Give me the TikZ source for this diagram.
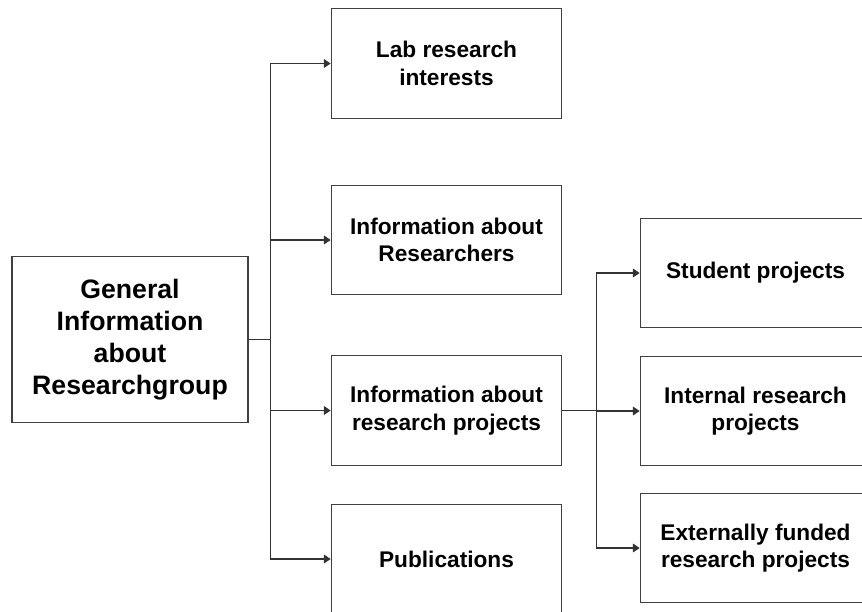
\documentclass[tikz,border=0pt]{standalone}
\usepackage{fontspec}
\setmainfont{Liberation Sans}
\usetikzlibrary{calc,arrows.meta}

\begin{document}
\begin{tikzpicture}[x=0.75pt,y=-0.75pt,info/.style={draw=black!75,line width=0.8pt,align=center,font=\bfseries\fontsize{17}{20.5}\selectfont,minimum width=173pt,minimum height=82pt,inner sep=0pt},group/.style={info,font=\bfseries\fontsize{20}{24}\selectfont,minimum width=177pt,minimum height=124pt},arrow/.style={-{Triangle[length=5pt,width=6.5pt]},line width=0.8pt,draw=black!80}]
  \path[use as bounding box,clip] (0,0) rectangle (862,611);
  \node[group] (general) at (130,339.5) {General\\Information\\about\\Researchgroup};
  \node[info] (lab) at ($ (general) + (316.5,-276) $) {Lab research\\interests};
  \node[info] (researchers) at ($ (lab) + (0,176.5) $) {Information about\\Researchers};
  \node[info] (projects) at ($ (researchers) + (0,170.5) $) {Information about\\research projects};
  \node[info] (publications) at ($ (projects) + (0,148.5) $) {Publications};
  \node[info] (student) at ($ (projects) + (309,-137.5) $) {Student projects};
  \node[info] (internal) at ($ (student) + (0,138) $) {Internal research\\projects};
  \node[info] (external) at ($ (internal) + (0,137) $) {Externally funded\\research projects};
  \draw[arrow] (general.east) -- ++(22,0) |- (lab.west);
  \draw[arrow] (general.east) -- ++(22,0) |- (researchers.west);
  \draw[arrow] (general.east) -- ++(22,0) |- (projects.west);
  \draw[arrow] (general.east) -- ++(22,0) |- (publications.west);
  \draw[arrow] (projects.east) -- ++(34,0) |- (student.west);
  \draw[arrow] (projects.east) -- ++(34,0) |- (internal.west);
  \draw[arrow] (projects.east) -- ++(34,0) |- (external.west);
\end{tikzpicture}
\end{document}
